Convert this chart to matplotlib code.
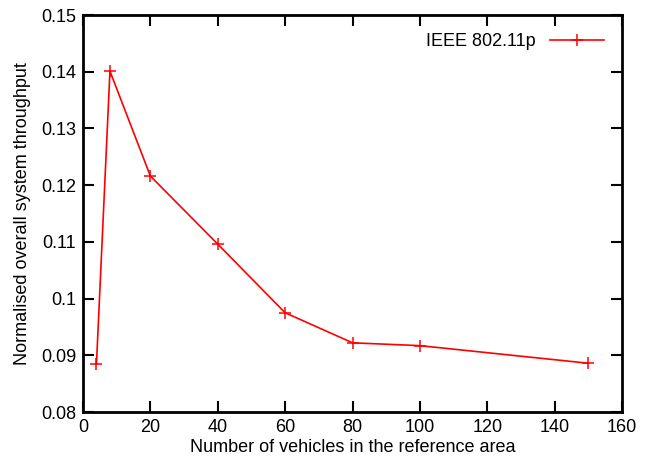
import matplotlib
matplotlib.use("Agg")
import matplotlib.pyplot as plt

plt.rcParams['font.family'] = ['Liberation Sans', 'DejaVu Sans']

vehicles = [4, 8, 20, 40, 60, 80, 100, 150]
throughput = [0.0885, 0.1401, 0.1216, 0.1096, 0.0975, 0.0922, 0.0917, 0.0886]
x_ticks = [0, 20, 40, 60, 80, 100, 120, 140, 160]
y_ticks = [0.08, 0.09, 0.1, 0.11, 0.12, 0.13, 0.14, 0.15]
y_tick_labels = ["0.08", "0.09", "0.1", "0.11", "0.12", "0.13", "0.14", "0.15"]

fig = plt.figure(figsize=(6.52, 4.61), dpi=100)
ax = fig.add_axes([83 / 652, 1 - 412 / 461, (622 - 83) / 652, (412 - 15) / 461])

ax.plot(vehicles, throughput, color="#ff0000", lw=1.2, marker="+",
        markersize=8, markeredgewidth=1.1, label="IEEE 802.11p")

ax.set_xlim(0, 160)
ax.set_ylim(0.08, 0.15)
ax.set_xticks(x_ticks)
ax.set_yticks(y_ticks)
ax.set_yticklabels(y_tick_labels)
ax.tick_params(direction="in", length=8, width=1.5, labelsize=13,
               top=True, right=True, pad=5)
for s in ax.spines.values():
    s.set_linewidth(2)

ax.set_xlabel("Number of vehicles in the reference area", fontsize=13, labelpad=2)
ax.set_ylabel("Normalised overall system throughput", fontsize=13, labelpad=7)

ax.legend(loc="upper right", frameon=False, markerfirst=False, fontsize=13,
          handlelength=3.0, borderaxespad=0.6)

fig.savefig("out.png", dpi=100)
